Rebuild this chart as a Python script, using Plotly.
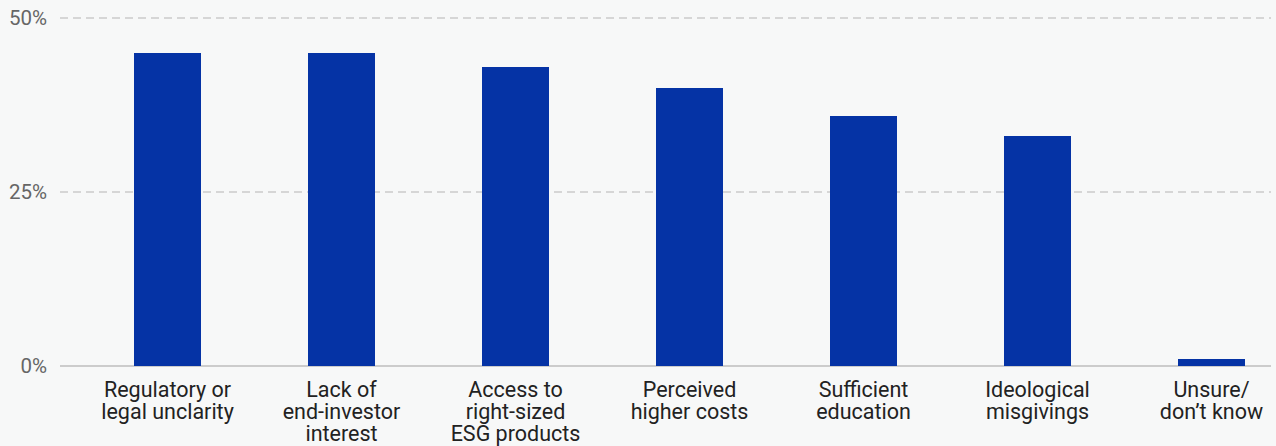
import plotly.graph_objects as go

category_lines = [
    ["Regulatory or", "legal unclarity"],
    ["Lack of", "end-investor", "interest"],
    ["Access to", "right-sized", "ESG products"],
    ["Perceived", "higher costs"],
    ["Sufficient", "education"],
    ["Ideological", "misgivings"],
    ["Unsure/", "don’t know"],
]
values = [45, 45, 43, 40, 36, 33, 1]
y_ticks = [0, 25, 50]
y_labels = ["0%", "25%", "50%"]

categories = ["<br>".join(lines) for lines in category_lines]
tick_text = ["<br>".join('<span style="font-size:21.5px">%s</span>' % l for l in lines)
             for lines in category_lines]

fig = go.Figure(
    go.Bar(x=categories, y=values, marker=dict(color="#0533a5", line=dict(width=0)),
           width=0.385, hoverinfo="skip")
)

fig.update_layout(
    width=1276, height=446,
    margin=dict(l=60, r=5, t=16, b=80),
    paper_bgcolor="#f7f8f8", plot_bgcolor="#f7f8f8",
    font=dict(family="Roboto", size=17, color="#222222"),
    showlegend=False,
    bargap=0,
)
fig.update_xaxes(
    type="category", range=[-0.618, 6.342],
    tickvals=categories, ticktext=tick_text,
    showgrid=False, showline=False, zeroline=False,
    ticks="", tickfont=dict(size=17, color="#222222"),
    ticklabelstandoff=13, automargin=False,
)
fig.update_yaxes(
    range=[0, 50.3], tickvals=y_ticks, ticktext=y_labels,
    showgrid=True, gridcolor="#d6d6d6", griddash="8px,5px", gridwidth=2,
    zeroline=True, zerolinecolor="#cccccc", zerolinewidth=2,
    showline=False, ticks="", tickfont=dict(size=20.5, color="#666666"),
    ticklabelstandoff=12, automargin=False,
)

fig.write_html("out.html")
